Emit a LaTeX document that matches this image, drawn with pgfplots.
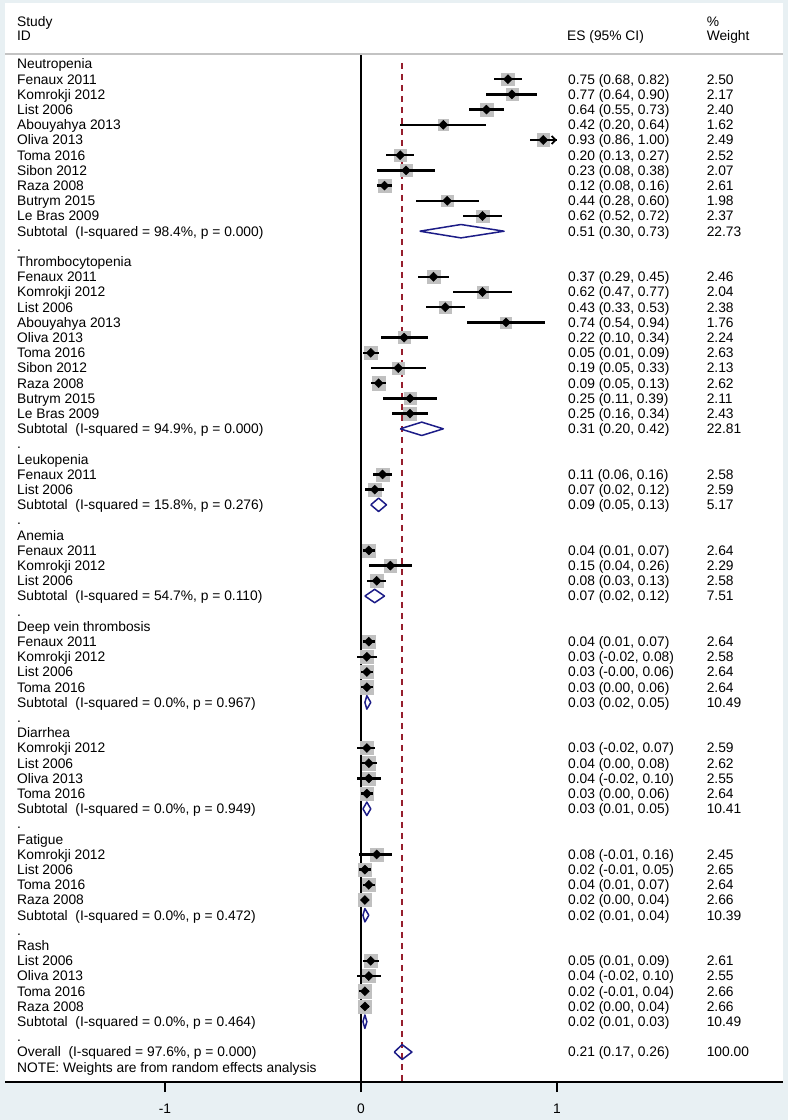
\documentclass[border=0pt]{standalone}
\usepackage{fontspec}
\setmainfont{Liberation Sans}
\usepackage{pgfplots}
\pgfplotsset{compat=1.18}
\usepackage{pgfplotstable}
\usetikzlibrary{arrows.meta}
\definecolor{bgc}{RGB}{232,240,243}
\definecolor{boxgray}{RGB}{192,192,192}
\definecolor{dia}{RGB}{28,28,135}
\definecolor{maroonx}{RGB}{150,30,45}
\definecolor{hdr}{RGB}{195,195,195}

\pgfplotstableread{
r es lo hi w
2 0.75 0.68 0.82 2.50
3 0.77 0.64 0.90 2.17
4 0.64 0.55 0.73 2.40
5 0.42 0.20 0.64 1.62
6 0.93 0.86 1.00 2.49
7 0.20 0.13 0.27 2.52
8 0.23 0.08 0.38 2.07
9 0.12 0.08 0.16 2.61
10 0.44 0.28 0.60 1.98
11 0.62 0.52 0.72 2.37
15 0.37 0.29 0.45 2.46
16 0.62 0.47 0.77 2.04
17 0.43 0.33 0.53 2.38
18 0.74 0.54 0.94 1.76
19 0.22 0.10 0.34 2.24
20 0.05 0.01 0.09 2.63
21 0.19 0.05 0.33 2.13
22 0.09 0.05 0.13 2.62
23 0.25 0.11 0.39 2.11
24 0.25 0.16 0.34 2.43
28 0.11 0.06 0.16 2.58
29 0.07 0.02 0.12 2.59
33 0.04 0.01 0.07 2.64
34 0.15 0.04 0.26 2.29
35 0.08 0.03 0.13 2.58
39 0.04 0.01 0.07 2.64
40 0.03 -0.02 0.08 2.58
41 0.03 -0.00 0.06 2.64
42 0.03 0.00 0.06 2.64
46 0.03 -0.02 0.07 2.59
47 0.04 0.00 0.08 2.62
48 0.04 -0.02 0.10 2.55
49 0.03 0.00 0.06 2.64
53 0.08 -0.01 0.16 2.45
54 0.02 -0.01 0.05 2.65
55 0.04 0.01 0.07 2.64
56 0.02 0.00 0.04 2.66
60 0.05 0.01 0.09 2.61
61 0.04 -0.02 0.10 2.55
62 0.02 -0.01 0.04 2.66
63 0.02 0.00 0.04 2.66
}\studies

\newcommand\lab[2]{\node[txt] at (axis cs:-1.755,-#1) {#2};}
\newcommand\rowt[4]{\node[txt] at (axis cs:-1.755,-#1) {#2};
  \node[txt] at (axis cs:1.056,-#1) {#3};
  \node[txt] at (axis cs:1.763,-#1) {#4};}

\begin{document}
\begin{tikzpicture}[font=\fontsize{13.8}{15}\selectfont,
  txt/.style={anchor=west, inner sep=0pt, text height=9.8pt, text depth=0pt}]
\fill[bgc] (0,0) rectangle (788pt,1120pt);
\begin{axis}[
  at={(5pt,38pt)}, anchor=south west,
  scale only axis, width=778pt, height=1079pt,
  xmin=-1.816, xmax=2.153, ymin=-67.97, ymax=3.01,
  axis x line*=bottom, axis y line=none,
  axis line style={black, line width=1.7pt},
  xtick={-1,0,1}, xticklabels={-1,0,1},
  tick align=outside, major tick length=10pt,
  xtick style={black, line width=1.7pt},
  ytick=\empty,
  axis background/.style={fill=white},
  clip=false, clip marker paths=true,
  xticklabel style={font=\fontsize{13.8}{15}\selectfont, yshift=-8pt},
]
% header line
\addplot[hdr, line width=1.5pt] coordinates {(-1.816,-0.34) (2.153,-0.34)};
% zero line
\addplot[black, line width=1.6pt] coordinates {(0,-0.41) (0,-67.97)};
% overall effect line
\addplot[maroonx, line width=1.8pt, dash pattern=on 6pt off 5pt] coordinates {(0.21,-0.93) (0.21,-67.97)};
% weight boxes
\addplot[boxgray, scatter, only marks, mark=square*, point meta=\thisrow{w},
  mark options={draw=boxgray, fill=boxgray},
  scatter/use mapped color={draw=boxgray, fill=boxgray},
  visualization depends on={4.05*sqrt(\thisrow{w}) \as \msz},
  scatter/@pre marker code/.append style={/tikz/mark size=\msz}]
  table[x=es, y expr=-\thisrow{r}] {\studies};
% CIs and point estimates
\addplot[black, only marks, mark=square*, mark size=3.2pt, mark options={rotate=45, fill=black},
  error bars/.cd, x dir=both, x explicit, error mark=none,
  error bar style={line width=2.3pt, black}]
  table[x=es, y expr=-\thisrow{r},
    x error plus expr=\thisrow{hi}-\thisrow{es},
    x error minus expr=\thisrow{es}-\thisrow{lo}] {\studies};
\addplot[black, line width=1.8pt, -{Straight Barb[length=4pt,width=8pt]}] coordinates {(0.93,-6) (1.0,-6)};
% subtotal diamonds
\addplot[dia, line width=1.5pt, line join=round] coordinates {(0.30,-12) (0.51,-11.56) (0.73,-12) (0.51,-12.44) (0.30,-12)};
\addplot[dia, line width=1.5pt, line join=round] coordinates {(0.20,-25) (0.31,-24.56) (0.42,-25) (0.31,-25.44) (0.20,-25)};
\addplot[dia, line width=1.5pt, line join=round] coordinates {(0.05,-30) (0.09,-29.56) (0.13,-30) (0.09,-30.44) (0.05,-30)};
\addplot[dia, line width=1.5pt, line join=round] coordinates {(0.02,-36) (0.07,-35.56) (0.12,-36) (0.07,-36.44) (0.02,-36)};
\addplot[dia, line width=1.5pt, line join=round] coordinates {(0.02,-43) (0.03,-42.56) (0.05,-43) (0.03,-43.44) (0.02,-43)};
\addplot[dia, line width=1.5pt, line join=round] coordinates {(0.01,-50) (0.03,-49.56) (0.05,-50) (0.03,-50.44) (0.01,-50)};
\addplot[dia, line width=1.5pt, line join=round] coordinates {(0.01,-57) (0.02,-56.56) (0.04,-57) (0.02,-57.44) (0.01,-57)};
\addplot[dia, line width=1.5pt, line join=round] coordinates {(0.01,-64) (0.02,-63.56) (0.03,-64) (0.02,-64.44) (0.01,-64)};
\addplot[dia, line width=1.5pt, line join=round] coordinates {(0.17,-66) (0.21,-65.51) (0.26,-66) (0.21,-66.49) (0.17,-66)};
% header
\node[txt] at (axis cs:-1.755,1.76) {Study};
\node[txt] at (axis cs:-1.755,0.84) {ID};
\node[txt] at (axis cs:1.051,0.84) {ES (95\% CI)};
\node[txt] at (axis cs:1.763,1.76) {\%};
\node[txt] at (axis cs:1.763,0.84) {Weight};
% rows
\lab{1}{Neutropenia}
\rowt{2}{Fenaux 2011}{0.75 (0.68, 0.82)}{2.50}
\rowt{3}{Komrokji 2012}{0.77 (0.64, 0.90)}{2.17}
\rowt{4}{List 2006}{0.64 (0.55, 0.73)}{2.40}
\rowt{5}{Abouyahya 2013}{0.42 (0.20, 0.64)}{1.62}
\rowt{6}{Oliva 2013}{0.93 (0.86, 1.00)}{2.49}
\rowt{7}{Toma 2016}{0.20 (0.13, 0.27)}{2.52}
\rowt{8}{Sibon 2012}{0.23 (0.08, 0.38)}{2.07}
\rowt{9}{Raza 2008}{0.12 (0.08, 0.16)}{2.61}
\rowt{10}{Butrym 2015}{0.44 (0.28, 0.60)}{1.98}
\rowt{11}{Le Bras 2009}{0.62 (0.52, 0.72)}{2.37}
\rowt{12}{Subtotal\ \ (I-squared = 98.4\%, p = 0.000)}{0.51 (0.30, 0.73)}{22.73}
\lab{13}{.}
\lab{14}{Thrombocytopenia}
\rowt{15}{Fenaux 2011}{0.37 (0.29, 0.45)}{2.46}
\rowt{16}{Komrokji 2012}{0.62 (0.47, 0.77)}{2.04}
\rowt{17}{List 2006}{0.43 (0.33, 0.53)}{2.38}
\rowt{18}{Abouyahya 2013}{0.74 (0.54, 0.94)}{1.76}
\rowt{19}{Oliva 2013}{0.22 (0.10, 0.34)}{2.24}
\rowt{20}{Toma 2016}{0.05 (0.01, 0.09)}{2.63}
\rowt{21}{Sibon 2012}{0.19 (0.05, 0.33)}{2.13}
\rowt{22}{Raza 2008}{0.09 (0.05, 0.13)}{2.62}
\rowt{23}{Butrym 2015}{0.25 (0.11, 0.39)}{2.11}
\rowt{24}{Le Bras 2009}{0.25 (0.16, 0.34)}{2.43}
\rowt{25}{Subtotal\ \ (I-squared = 94.9\%, p = 0.000)}{0.31 (0.20, 0.42)}{22.81}
\lab{26}{.}
\lab{27}{Leukopenia}
\rowt{28}{Fenaux 2011}{0.11 (0.06, 0.16)}{2.58}
\rowt{29}{List 2006}{0.07 (0.02, 0.12)}{2.59}
\rowt{30}{Subtotal\ \ (I-squared = 15.8\%, p = 0.276)}{0.09 (0.05, 0.13)}{5.17}
\lab{31}{.}
\lab{32}{Anemia}
\rowt{33}{Fenaux 2011}{0.04 (0.01, 0.07)}{2.64}
\rowt{34}{Komrokji 2012}{0.15 (0.04, 0.26)}{2.29}
\rowt{35}{List 2006}{0.08 (0.03, 0.13)}{2.58}
\rowt{36}{Subtotal\ \ (I-squared = 54.7\%, p = 0.110)}{0.07 (0.02, 0.12)}{7.51}
\lab{37}{.}
\lab{38}{Deep vein thrombosis}
\rowt{39}{Fenaux 2011}{0.04 (0.01, 0.07)}{2.64}
\rowt{40}{Komrokji 2012}{0.03 (-0.02, 0.08)}{2.58}
\rowt{41}{List 2006}{0.03 (-0.00, 0.06)}{2.64}
\rowt{42}{Toma 2016}{0.03 (0.00, 0.06)}{2.64}
\rowt{43}{Subtotal\ \ (I-squared = 0.0\%, p = 0.967)}{0.03 (0.02, 0.05)}{10.49}
\lab{44}{.}
\lab{45}{Diarrhea}
\rowt{46}{Komrokji 2012}{0.03 (-0.02, 0.07)}{2.59}
\rowt{47}{List 2006}{0.04 (0.00, 0.08)}{2.62}
\rowt{48}{Oliva 2013}{0.04 (-0.02, 0.10)}{2.55}
\rowt{49}{Toma 2016}{0.03 (0.00, 0.06)}{2.64}
\rowt{50}{Subtotal\ \ (I-squared = 0.0\%, p = 0.949)}{0.03 (0.01, 0.05)}{10.41}
\lab{51}{.}
\lab{52}{Fatigue}
\rowt{53}{Komrokji 2012}{0.08 (-0.01, 0.16)}{2.45}
\rowt{54}{List 2006}{0.02 (-0.01, 0.05)}{2.65}
\rowt{55}{Toma 2016}{0.04 (0.01, 0.07)}{2.64}
\rowt{56}{Raza 2008}{0.02 (0.00, 0.04)}{2.66}
\rowt{57}{Subtotal\ \ (I-squared = 0.0\%, p = 0.472)}{0.02 (0.01, 0.04)}{10.39}
\lab{58}{.}
\lab{59}{Rash}
\rowt{60}{List 2006}{0.05 (0.01, 0.09)}{2.61}
\rowt{61}{Oliva 2013}{0.04 (-0.02, 0.10)}{2.55}
\rowt{62}{Toma 2016}{0.02 (-0.01, 0.04)}{2.66}
\rowt{63}{Raza 2008}{0.02 (0.00, 0.04)}{2.66}
\rowt{64}{Subtotal\ \ (I-squared = 0.0\%, p = 0.464)}{0.02 (0.01, 0.03)}{10.49}
\lab{65}{.}
\rowt{66}{Overall\ \ (I-squared = 97.6\%, p = 0.000)}{0.21 (0.17, 0.26)}{100.00}
\lab{67}{NOTE: Weights are from random effects analysis}
\end{axis}
\end{tikzpicture}
\end{document}
